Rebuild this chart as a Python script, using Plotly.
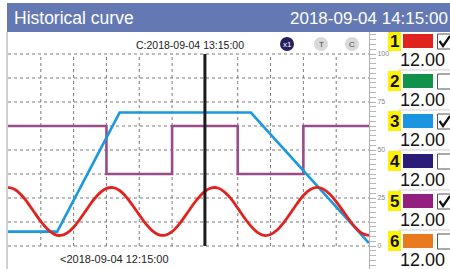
import plotly.graph_objects as go

# ---------------- data ----------------
t_red = [0, 2, 4, 6, 8, 10, 12, 14, 16, 18, 20, 22, 24, 26, 28, 30, 32, 34, 36, 38,
         40, 42, 44, 46, 48, 50, 52, 54, 56, 58, 60, 62, 64, 66, 68, 70, 72, 74, 76, 78,
         80, 82, 84, 86, 88, 90, 92, 94, 96, 98, 100, 102, 104, 106, 108, 110]
v_red = [30.5, 29.5, 26.7, 22.5, 17.6, 12.8, 8.8, 6.2, 5.5, 6.8, 9.8, 14.2, 19.1, 23.9,
         27.7, 30.0, 30.4, 28.9, 25.6, 21.1, 16.2, 11.5, 7.9, 5.8, 5.7, 7.5, 11.0, 15.7,
         20.6, 25.1, 28.5, 30.3, 30.2, 28.1, 24.5, 19.7, 14.8, 10.4, 7.1, 5.5, 6.0, 8.3,
         12.2, 16.9, 21.9, 26.3, 29.3, 30.5, 29.7, 27.1, 23.1, 18.4, 13.6, 9.4, 6.5, 5.5]
t_blue = [0, 15, 34, 74, 110]
v_blue = [7.5, 7.5, 69.5, 69.5, 1.5]
t_purple = [0, 30, 50, 70, 90, 110]
v_purple = [62.5, 37.5, 62.5, 37.5, 62.5, 62.5]

cursor_t = 60
x_grid = [10, 20, 30, 40, 50, 60, 70, 80, 90, 100]
y_grid = [0, 12.5, 25, 37.5, 50, 62.5, 75, 87.5, 100]
y_ticks = [0, 25, 50, 75, 100]

title_text = "Historical curve"
header_time = "2018-09-04 14:15:00"
cursor_label = "C:2018-09-04 13:15:00"
start_label = "<2018-09-04 12:15:00"
buttons = ["x1", "T", "C"]

ch_numbers = ["1", "2", "3", "4", "5", "6"]
ch_colors = ["#e0231e", "#10924a", "#1996df", "#2b1c78", "#93207f", "#ea7a1f"]
ch_checked = [True, False, True, False, True, False]
ch_values = ["12.00", "12.00", "12.00", "12.00", "12.00", "12.00"]

# ---------------- layout helpers ----------------
W, H = 450, 269
L, R, T, B = 8, 369, 32, 269


def px(x):
    return (x - L) / (R - L)


def py(y):
    return (B - y) / (B - T)


fig = go.Figure()
fig.add_trace(go.Scatter(x=t_purple, y=v_purple, mode="lines", line_shape="hv",
                         line=dict(color="#9a4c88", width=2.6), hoverinfo="skip"))
fig.add_trace(go.Scatter(x=t_blue, y=v_blue, mode="lines",
                         line=dict(color="#1a98e0", width=2.6), hoverinfo="skip"))
fig.add_trace(go.Scatter(x=t_red, y=v_red, mode="lines", line_shape="spline",
                         line=dict(color="#e0231e", width=2.8), hoverinfo="skip"))

shapes = []
anns = []
grid_style = dict(color="#7a7a7a", width=1, dash="dot")
for gx in x_grid:
    shapes.append(dict(type="line", xref="x", yref="y", x0=gx, x1=gx, y0=0, y1=100,
                       line=grid_style, layer="below"))
for gy in y_grid:
    shapes.append(dict(type="line", xref="x", yref="y", x0=0, x1=110, y0=gy, y1=gy,
                       line=grid_style, layer="below"))
# cursor
shapes.append(dict(type="line", xref="x", yref="y", x0=cursor_t, x1=cursor_t, y0=0, y1=100,
                   line=dict(color="#1a1a1a", width=3), layer="above"))
# left border
shapes.append(dict(type="line", xref="paper", yref="paper", x0=px(7), x1=px(7), y0=py(32), y1=py(269),
                   line=dict(color="#a0a0a0", width=1)))
# header
shapes.append(dict(type="rect", xref="paper", yref="paper", x0=px(7), x1=px(451), y0=py(3), y1=py(32),
                   fillcolor="#6479b4", line=dict(width=0)))
anns.append(dict(xref="paper", yref="paper", x=px(12), y=py(18), text=title_text, showarrow=False,
                 xanchor="left", yanchor="middle",
                 font=dict(family="Liberation Sans, Arial", size=17.5, color="white")))
anns.append(dict(xref="paper", yref="paper", x=px(450), y=py(18), text=header_time, showarrow=False,
                 xanchor="right", yanchor="middle",
                 font=dict(family="Liberation Sans, Arial", size=17, color="white")))
# cursor label / start label
anns.append(dict(xref="paper", yref="paper", x=px(190), y=py(45), text=cursor_label, showarrow=False,
                 xanchor="center", yanchor="middle",
                 font=dict(family="Liberation Sans, Arial", size=10.5, color="#222222")))
anns.append(dict(xref="paper", yref="paper", x=px(114), y=py(259), text=start_label, showarrow=False,
                 xanchor="center", yanchor="middle",
                 font=dict(family="Liberation Sans, Arial", size=11, color="#222222")))
# buttons
btn_x = [287, 321, 352]
btn_fill = ["#241f5e", "#d9d9d9", "#d9d9d9"]
btn_txt = ["white", "#444444", "#444444"]
for bx, lab, fc, tc in zip(btn_x, buttons, btn_fill, btn_txt):
    shapes.append(dict(type="circle", xref="paper", yref="paper",
                       x0=px(bx - 7), x1=px(bx + 7), y0=py(44 + 7), y1=py(44 - 7),
                       fillcolor=fc, line=dict(width=0)))
    anns.append(dict(xref="paper", yref="paper", x=px(bx), y=py(44), text=lab, showarrow=False,
                     xanchor="center", yanchor="middle",
                     font=dict(family="Liberation Sans, Arial", size=8, color=tc)))

# channel panel
for i in range(6):
    top = 30 + 40 * i
    if i > 0:
        shapes.append(dict(type="line", xref="paper", yref="paper", x0=px(398), x1=px(451),
                           y0=py(top), y1=py(top), line=dict(color="#d0d0d0", width=1)))
    shapes.append(dict(type="rect", xref="paper", yref="paper", x0=px(388), x1=px(401),
                       y0=py(max(top + 1, 32)), y1=py(top + 21), fillcolor="#fff200", line=dict(width=0)))
    anns.append(dict(xref="paper", yref="paper", x=px(394.5), y=py(top + 11.5), text="<b>" + ch_numbers[i] + "</b>",
                     showarrow=False, xanchor="center", yanchor="middle",
                     font=dict(family="Liberation Sans, Arial", size=17, color="#111111")))
    shapes.append(dict(type="rect", xref="paper", yref="paper", x0=px(403), x1=px(433),
                       y0=py(top + 4), y1=py(top + 18), fillcolor=ch_colors[i], line=dict(width=0)))
    shapes.append(dict(type="rect", xref="paper", yref="paper", x0=px(437.5), x1=px(452),
                       y0=py(top + 4), y1=py(top + 19), fillcolor="white",
                       line=dict(color="#555555", width=1)))
    if ch_checked[i]:
        path = "M {} {} L {} {} L {} {}".format(px(439.5), py(top + 11), px(443), py(top + 16),
                                                px(450), py(top + 6))
        shapes.append(dict(type="path", xref="paper", yref="paper", path=path,
                           line=dict(color="#111111", width=2.2)))
    anns.append(dict(xref="paper", yref="paper", x=px(422.5), y=py(top + 30), text=ch_values[i],
                     showarrow=False, xanchor="center", yanchor="middle",
                     font=dict(family="Liberation Sans, Arial", size=18, color="#111111")))

fig.update_layout(
    width=W, height=H,
    margin=dict(l=L, r=W - R, t=T, b=H - B, pad=0),
    paper_bgcolor="white", plot_bgcolor="white",
    showlegend=False,
    shapes=shapes, annotations=anns,
    xaxis=dict(range=[0, 110], showgrid=False, zeroline=False, showticklabels=False,
               ticks="", showline=False, fixedrange=True),
    yaxis=dict(range=[(246 - 269) / 1.92, (246 - 32) / 1.92], side="right",
               showgrid=False, zeroline=False, showline=True, linecolor="#b0b0b0", linewidth=1,
               tickmode="array", tickvals=y_ticks, ticks="outside", ticklen=6, tickcolor="#b0b0b0",
               tickfont=dict(family="Liberation Sans, Arial", size=7, color="#888888"),
               minor=dict(dtick=2.5, ticks="outside", ticklen=6, tickcolor="#b8b8b8", showgrid=False),
               fixedrange=True),
)

fig.write_html("out.html", config={"displayModeBar": False},
               post_script="document.body.style.margin='0';document.body.style.overflow='hidden';")
